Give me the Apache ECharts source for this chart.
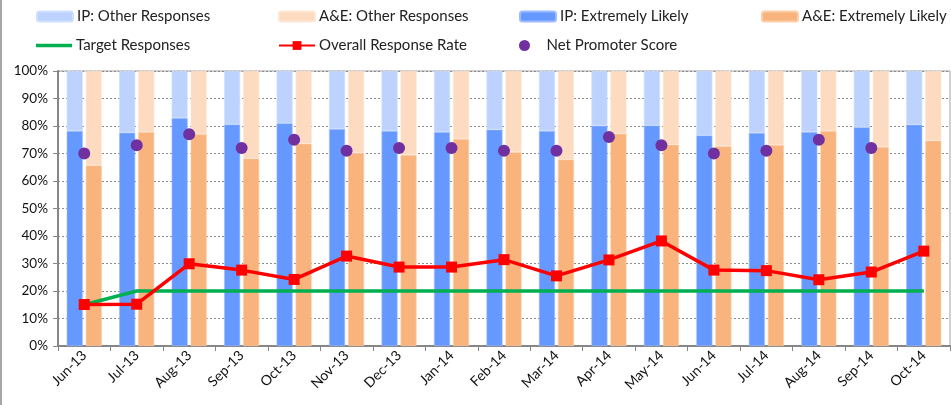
<!DOCTYPE html>
<html>
<head>
<meta charset="utf-8">
<script src="https://cdn.jsdelivr.net/npm/echarts@6/dist/echarts.min.js"></script>
<style>
  html, body { margin: 0; padding: 0; background: #fff; }
  #chart { width: 951px; height: 405px; }
</style>
</head>
<body>
<div id="chart"></div>
<script>
// Monthly survey results, Jun-13 to Oct-14 (values in %)
const categories = ['Jun-13', 'Jul-13', 'Aug-13', 'Sep-13', 'Oct-13', 'Nov-13', 'Dec-13', 'Jan-14',
  'Feb-14', 'Mar-14', 'Apr-14', 'May-14', 'Jun-14', 'Jul-14', 'Aug-14', 'Sep-14', 'Oct-14'];
const ipExtremelyLikely = [78.2, 77.6, 82.9, 80.6, 81.0, 78.9, 78.2, 77.8, 78.7, 78.2, 80.1, 80.2, 76.6, 77.5, 77.8, 79.6, 80.5];
const aeExtremelyLikely = [65.7, 77.8, 77.0, 68.2, 73.6, 70.2, 69.5, 75.3, 70.5, 67.8, 77.2, 73.2, 72.7, 73.1, 78.2, 72.4, 74.7];
const targetResponses = [15, 20, 20, 20, 20, 20, 20, 20, 20, 20, 20, 20, 20, 20, 20, 20, 20];
const overallResponseRate = [15.1, 15.2, 29.9, 27.6, 24.2, 32.7, 28.7, 28.7, 31.4, 25.5, 31.3, 38.2, 27.6, 27.4, 24.1, 26.9, 34.5];
const netPromoterScore = [70, 73, 77, 72, 75, 71, 72, 72, 71, 71, 76, 73, 70, 71, 75, 72, null];
const yTicks = [0, 10, 20, 30, 40, 50, 60, 70, 80, 90, 100];

// The remainder of each stack is the share of other responses
const ipOther = ipExtremelyLikely.map(v => +(100 - v).toFixed(1));
const aeOther = aeExtremelyLikely.map(v => +(100 - v).toFixed(1));

const FONT = 'Lato, "Liberation Sans", sans-serif';
const C = {
  ipOther: '#BDD3FE',
  aeOther: '#FCDBC1',
  ipEL: '#6699FF',
  aeEL: '#F8B47C',
  target: '#00B050',
  rate: '#FF0000',
  nps: '#7030A0'
};

function legendAt(item, left, top, extra) {
  return Object.assign({
    data: [item],
    left: left,
    top: top,
    itemWidth: 36,
    itemHeight: 10,
    itemGap: 4,
    padding: 0,
    textStyle: { fontFamily: FONT, fontSize: 15, color: '#222', padding: [0, 0, 0, -1] },
    selectedMode: false
  }, extra || {});
}

const chart = echarts.init(document.getElementById('chart'), null, { renderer: 'canvas' });

const barCommon = {
  type: 'bar',
  barWidth: 16,
  barGap: '19%',
  emphasis: { disabled: true }
};

chart.setOption({
  animation: false,
  backgroundColor: '#fff',
  legend: [
    legendAt('IP: Other Responses', 36, 9),
    legendAt('A&E: Other Responses', 278, 9),
    legendAt('IP: Extremely Likely', 519, 9),
    legendAt('A&E: Extremely Likely', 761, 9),
    legendAt({ name: 'Target Responses', icon: 'rect' }, 36, 38, { itemHeight: 3.5 }),
    legendAt('Overall Response Rate', 278, 38, { itemHeight: 11 }),
    legendAt('Net Promoter Score', 519, 38, { itemHeight: 11 })
  ],
  grid: {
    left: 58, top: 71, right: 1, bottom: 59,
    show: true, borderColor: '#A0A0A0', borderWidth: 1, backgroundColor: 'transparent'
  },
  xAxis: {
    type: 'category',
    data: categories,
    boundaryGap: true,
    axisLine: { lineStyle: { color: '#868686', width: 2 } },
    axisTick: { show: true, length: 5, lineStyle: { color: '#868686' }, alignWithLabel: false },
    axisLabel: { rotate: 45, fontFamily: FONT, fontSize: 14, color: '#111', margin: 7, interval: 0 }
  },
  yAxis: {
    type: 'value',
    min: yTicks[0],
    max: yTicks[yTicks.length - 1],
    interval: yTicks[1] - yTicks[0],
    axisLine: { show: true, lineStyle: { color: '#868686', width: 2 } },
    axisTick: { show: true, length: 5, lineStyle: { color: '#868686' } },
    axisLabel: { formatter: '{value}%', fontFamily: FONT, fontSize: 13.5, color: '#111', margin: 10 },
    splitLine: { show: true, lineStyle: { color: '#8C8C8C', type: [2, 2], width: 1 } }
  },
  series: [
    Object.assign({}, barCommon, {
      name: 'IP: Extremely Likely', stack: 'ip', data: ipExtremelyLikely,
      itemStyle: { color: C.ipEL, borderColor: '#9DBCFF', borderWidth: 0.6 }
    }),
    Object.assign({}, barCommon, {
      name: 'IP: Other Responses', stack: 'ip', data: ipOther,
      itemStyle: { color: C.ipOther, borderColor: '#CFE0FF', borderWidth: 0.6 }
    }),
    Object.assign({}, barCommon, {
      name: 'A&E: Extremely Likely', stack: 'ae', data: aeExtremelyLikely,
      itemStyle: { color: C.aeEL, borderColor: '#FBCFA9', borderWidth: 0.6 }
    }),
    Object.assign({}, barCommon, {
      name: 'A&E: Other Responses', stack: 'ae', data: aeOther,
      itemStyle: { color: C.aeOther, borderColor: '#FDE6D4', borderWidth: 0.6 }
    }),
    {
      name: 'Target Responses', type: 'line', data: targetResponses,
      symbol: 'none', z: 3,
      lineStyle: { color: C.target, width: 3.5 },
      itemStyle: { color: C.target },
      emphasis: { disabled: true }
    },
    {
      name: 'Overall Response Rate', type: 'line', data: overallResponseRate,
      symbol: 'rect', symbolSize: 11, z: 4,
      lineStyle: { color: C.rate, width: 3.5 },
      itemStyle: { color: C.rate },
      emphasis: { disabled: true }
    },
    {
      name: 'Net Promoter Score', type: 'scatter', data: netPromoterScore,
      symbol: 'circle', symbolSize: 12, z: 5,
      itemStyle: { color: C.nps, opacity: 1 },
      emphasis: { disabled: true }
    }
  ],
  graphic: [
    { type: 'line', shape: { x1: 1, y1: 0, x2: 1, y2: 405 }, style: { stroke: '#A6A6A6', lineWidth: 2 }, silent: true }
  ]
});
</script>
</body>
</html>
